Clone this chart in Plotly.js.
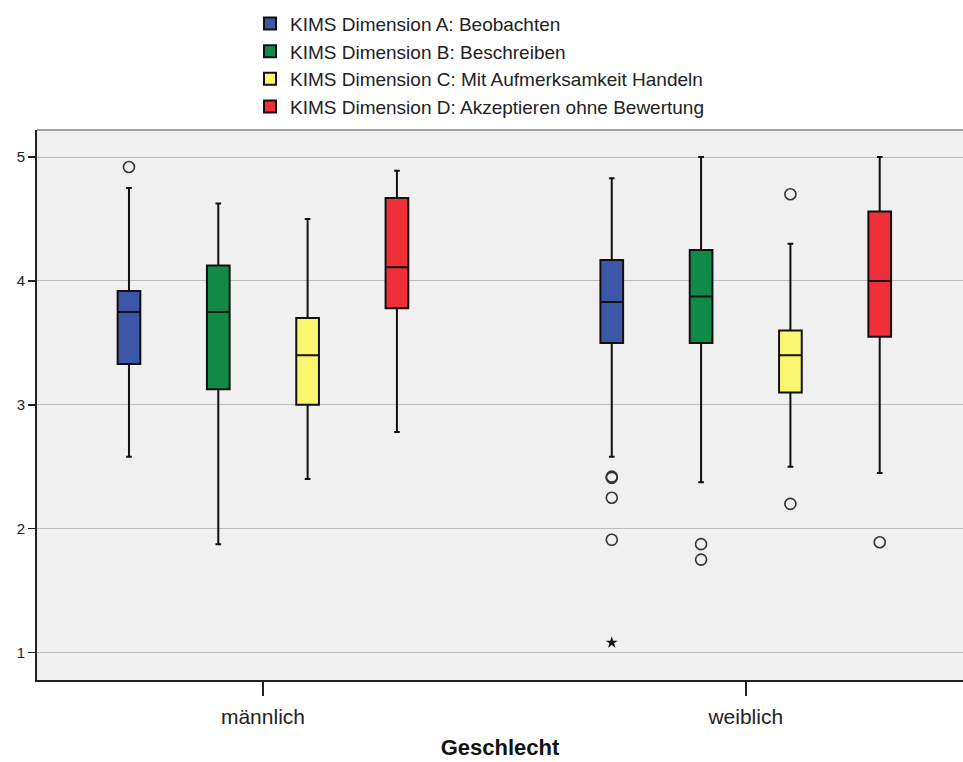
<!DOCTYPE html>
<html><head><meta charset="utf-8">
<script src="https://cdn.plot.ly/plotly-3.0.1.min.js"></script>
<style>body{margin:0;background:#fff}#chart{width:963px;height:762px}</style>
</head><body><div id="chart"></div>
<script>
const categories = ["männlich", "weiblich"];
const seriesNames = [
  "KIMS Dimension A: Beobachten",
  "KIMS Dimension B: Beschreiben",
  "KIMS Dimension C: Mit Aufmerksamkeit Handeln",
  "KIMS Dimension D: Akzeptieren ohne Bewertung"
];
const colors = ["#3c56a8", "#108b47", "#faf670", "#ef3039"];
// per series: [männlich, weiblich]
const lowerA = [2.58, 2.58], q1A = [3.33, 3.50], medA = [3.75, 3.83], q3A = [3.92, 4.17], upperA = [4.75, 4.83];
const lowerB = [1.875, 2.375], q1B = [3.125, 3.50], medB = [3.75, 3.875], q3B = [4.125, 4.25], upperB = [4.625, 5.0];
const lowerC = [2.40, 2.50], q1C = [3.00, 3.10], medC = [3.40, 3.40], q3C = [3.70, 3.60], upperC = [4.50, 4.30];
const lowerD = [2.78, 2.45], q1D = [3.78, 3.55], medD = [4.11, 4.00], q3D = [4.67, 4.56], upperD = [4.89, 5.0];
// outliers: category index and value
const outA_cat = [0, 1, 1, 1, 1], outA_val = [4.92, 2.42, 2.41, 2.25, 1.91];
const outB_cat = [1, 1], outB_val = [1.875, 1.75];
const outC_cat = [1, 1], outC_val = [4.70, 2.20];
const outD_cat = [1], outD_val = [1.89];
const extremeA_cat = [1], extremeA_val = [1.08];

const stats = [
  [lowerA, q1A, medA, q3A, upperA],
  [lowerB, q1B, medB, q3B, upperB],
  [lowerC, q1C, medC, q3C, upperC],
  [lowerD, q1D, medD, q3D, upperD]
];
const outs = [[outA_cat, outA_val], [outB_cat, outB_val], [outC_cat, outC_val], [outD_cat, outD_val]];

const step = 0.185, bw = 0.047;
const pos = (c, k) => c + (k - 1.5) * step;
const traces = [];
stats.forEach((s, k) => {
  traces.push({
    type: "box", name: seriesNames[k], legendgroup: "g" + k,
    x: categories.map((_, c) => pos(c, k)),
    lowerfence: s[0], q1: s[1], median: s[2], q3: s[3], upperfence: s[4],
    width: bw, whiskerwidth: 0.25,
    fillcolor: colors[k], line: {color: "#111", width: 2},
    hoverinfo: "skip", boxpoints: false
  });
});
outs.forEach((o, k) => {
  traces.push({
    type: "scatter", mode: "markers", showlegend: false, hoverinfo: "skip",
    x: o[0].map(c => pos(c, k)), y: o[1],
    marker: {symbol: "circle-open", size: 11, color: "#333", line: {width: 1.6, color: "#333"}}
  });
});
traces.push({
  type: "scatter", mode: "markers", showlegend: false, hoverinfo: "skip",
  x: extremeA_cat.map(c => pos(c, 0)), y: extremeA_val,
  marker: {symbol: "star", size: 9, color: "#111"}
});

const layout = {
  width: 963, height: 762,
  margin: {l: 37, r: 0, t: 130, b: 82},
  paper_bgcolor: "#ffffff", plot_bgcolor: "#f0f0f0",
  font: {family: "Liberation Sans, Arial, sans-serif", color: "#222"},
  showlegend: true,
  legend: {x: 0.230, xanchor: "left", y: 1.228, yanchor: "top", font: {size: 19, color: "#222"},
           bgcolor: "rgba(0,0,0,0)", traceorder: "normal", tracegroupgap: 3, itemwidth: 30},
  xaxis: {
    type: "linear", range: [-0.468, 1.45],
    tickvals: categories.map((_, i) => i), ticktext: categories,
    ticks: "outside", ticklen: 14, tickwidth: 2, tickcolor: "#222",
    showgrid: false, zeroline: false, showline: true, linecolor: "#222", linewidth: 2,
    tickfont: {size: 21, color: "#222"}, ticklabelstandoff: 3,
    title: {text: "<b>Geschlecht</b>", font: {size: 22, color: "#111"}, standoff: 12}
  },
  yaxis: {
    range: [0.778, 5.219], tickvals: [1, 2, 3, 4, 5],
    ticks: "outside", ticklen: 7, tickwidth: 1.5, tickcolor: "#222",
    showgrid: true, gridcolor: "#bdbdbd", gridwidth: 1, zeroline: false,
    showline: true, linecolor: "#222", linewidth: 2,
    tickfont: {size: 15, color: "#222"}
  },
  shapes: [{type: "line", xref: "paper", yref: "paper", x0: 0, x1: 1, y0: 1, y1: 1,
            line: {color: "#a0a0a0", width: 2}}]
};
Plotly.newPlot("chart", traces, layout, {displayModeBar: false, staticPlot: true});
</script></body></html>
